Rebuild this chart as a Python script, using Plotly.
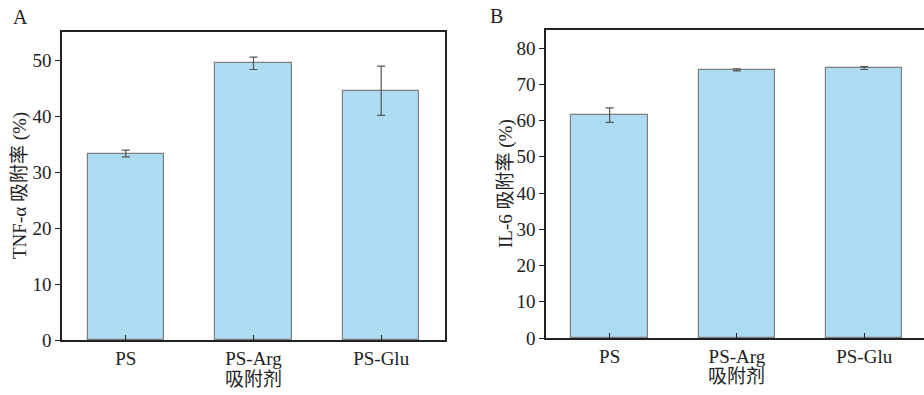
import plotly.graph_objects as go

categories = ["PS", "PS-Arg", "PS-Glu"]
tnf_values = [33.3, 49.4, 44.5]
tnf_errors = [0.6, 1.1, 4.4]
il6_values = [61.5, 74.0, 74.5]
il6_errors = [2.0, 0.3, 0.4]
xlabel = "吸附剂"
ylabel_a = "TNF-α 吸附率 (%)"
ylabel_b = "IL-6 吸附率 (%)"

W, H = 924, 395
FONT = "Liberation Serif, Times New Roman, Noto Sans CJK SC, serif"
BAR = "#ADDCF2"
EDGE = "#7f7f7f"
ERR = "#555555"
FS = 19

fig = go.Figure()
for vals, errs, xa, ya in [(tnf_values, tnf_errors, "x", "y"), (il6_values, il6_errors, "x2", "y2")]:
    fig.add_trace(go.Bar(
        x=list(range(len(categories))), y=vals, width=0.6,
        marker=dict(color=BAR, line=dict(color=EDGE, width=1.2)),
        error_y=dict(type="data", array=errs, visible=True, color=ERR, thickness=1.2, width=4),
        xaxis=xa, yaxis=ya, showlegend=False,
    ))

def px(x):
    return x / W

def py(y):
    return (H - y) / H

axis_common = dict(showline=True, linecolor="#222222", linewidth=1.5, showgrid=False, zeroline=False,
                   automargin=False,
                   tickfont=dict(family=FONT, size=FS, color="#222"), ticklen=5, tickcolor="#222", tickwidth=1.2)

fig.update_layout(
    template="none",
    width=W, height=H, margin=dict(l=0, r=0, t=0, b=0, pad=0),
    plot_bgcolor="white", paper_bgcolor="white",
    font=dict(family=FONT, color="#222"),
    bargap=0,
    xaxis=dict(domain=[px(62), px(445)], range=[-0.5, 2.5], tickvals=list(range(3)), ticktext=categories,
               ticks="inside", mirror=True, anchor="y", **axis_common),
    yaxis=dict(domain=[py(340), py(32)], range=[0, 55], tickvals=[0, 10, 20, 30, 40, 50],
               ticks="outside", mirror=True, anchor="x", **axis_common),
    xaxis2=dict(domain=[px(546), 1.0], range=[-0.5, 2.47], tickvals=list(range(3)), ticktext=categories,
                ticks="inside", mirror=True, anchor="y2", **axis_common),
    yaxis2=dict(domain=[py(338), py(30)], range=[0, 85], tickvals=list(range(0, 90, 10)),
                ticks="outside", mirror=False, anchor="x2", **axis_common),
)

def note(text, x, y, xref="paper", angle=0, size=FS):
    return dict(text=text, x=x, y=y, xref=xref, yref="paper", showarrow=False, textangle=angle,
                xanchor="center", yanchor="middle", font=dict(family=FONT, size=size, color="#222"))

ann = [
    note("A", px(20), py(17), size=20),
    note("B", px(496), py(16), size=20),
    note(ylabel_a, px(20), py(186), angle=-90),
    note(ylabel_b, px(506), py(184), angle=-90),
    note(xlabel, 1, py(379), xref="x"),
    note(xlabel, 1, py(376), xref="x2"),
]
fig.update_layout(annotations=ann)

fig.write_html("out.html")
